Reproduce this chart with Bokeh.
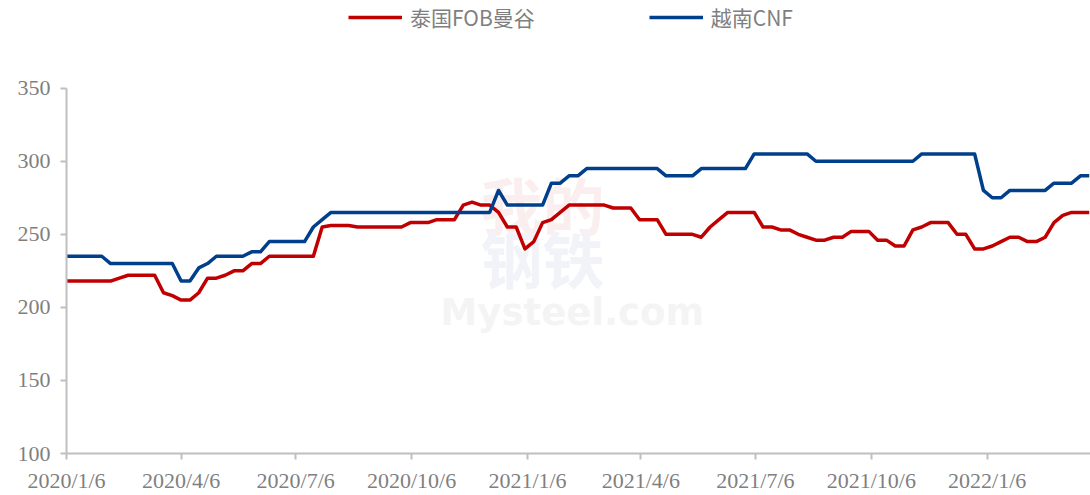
import pandas as pd
from bokeh.plotting import figure
from bokeh.models import Range1d, FixedTicker, Legend, LegendItem, Label
from bokeh.embed import file_html
from bokeh.resources import INLINE

# ---------------- data ----------------
start_date = "2020-01-06"

thai_fob_bangkok = [
    218, 218, 218, 218, 218, 218, 220, 222, 222, 222,
    222, 210, 208, 205, 205, 210, 220, 220, 222, 225,
    225, 230, 230, 235, 235, 235, 235, 235, 235, 255,
    256, 256, 256, 255, 255, 255, 255, 255, 255, 258,
    258, 258, 260, 260, 260, 270, 272, 270, 270, 265,
    255, 255, 240, 245, 258, 260, 265, 270, 270, 270,
    270, 270, 268, 268, 268, 260, 260, 260, 250, 250,
    250, 250, 248, 255, 260, 265, 265, 265, 265, 255,
    255, 253, 253, 250, 248, 246, 246, 248, 248, 252,
    252, 252, 246, 246, 242, 242, 253, 255, 258, 258,
    258, 250, 250, 240, 240, 242, 245, 248, 248, 245,
    245, 248, 258, 263, 265, 265, 265,
]

vietnam_cnf = [
    235, 235, 235, 235, 235, 230, 230, 230, 230, 230,
    230, 230, 230, 218, 218, 227, 230, 235, 235, 235,
    235, 238, 238, 245, 245, 245, 245, 245, 255, 260,
    265, 265, 265, 265, 265, 265, 265, 265, 265, 265,
    265, 265, 265, 265, 265, 265, 265, 265, 265, 280,
    270, 270, 270, 270, 270, 285, 285, 290, 290, 295,
    295, 295, 295, 295, 295, 295, 295, 295, 290, 290,
    290, 290, 295, 295, 295, 295, 295, 295, 305, 305,
    305, 305, 305, 305, 305, 300, 300, 300, 300, 300,
    300, 300, 300, 300, 300, 300, 300, 305, 305, 305,
    305, 305, 305, 305, 280, 275, 275, 280, 280, 280,
    280, 280, 285, 285, 285, 290, 290,
]

series_names = ["泰国FOB曼谷", "越南CNF"]
series_colors = ["#C00000", "#003F8C"]

x_tick_labels = ["2020/1/6", "2020/4/6", "2020/7/6", "2020/10/6", "2021/1/6",
                 "2021/4/6", "2021/7/6", "2021/10/6", "2022/1/6"]
y_ticks = [100, 150, 200, 250, 300, 350]

# ---------------- derived ----------------
t0 = pd.Timestamp(start_date)
dates = pd.date_range(start_date, periods=len(thai_fob_bangkok), freq="7D")
x_days = [int((d - t0).days) for d in dates]
tick_days = [int((pd.Timestamp(t) - t0).days) for t in x_tick_labels]

AXIS_GRAY = "#bfbfbf"
TEXT_GRAY = "#7f7f7f"

# frame spans the full height; the room above 350 holds the legend,
# the y axis itself is bounded to 100..350
p = figure(width=1090, height=495,
           x_range=Range1d(0, x_days[-1] + 1), y_range=Range1d(100, 410),
           toolbar_location=None, output_backend="svg",
           min_border_left=66, min_border_right=0,
           min_border_top=0, min_border_bottom=41)

p.background_fill_color = "white"
p.border_fill_color = "white"
p.outline_line_color = None
p.xgrid.visible = False
p.ygrid.visible = False

# faint watermark
wm1 = Label(x=414, y=205, x_units="screen", y_units="screen", text="我的",
            text_font="Noto Sans CJK SC", text_font_size="62px", text_font_style="bold",
            text_color="#fbeeee", level="underlay")
wm2 = Label(x=414, y=152, x_units="screen", y_units="screen", text="钢铁",
            text_font="Noto Sans CJK SC", text_font_size="62px", text_font_style="bold",
            text_color="#f1f3f8", level="underlay")
wm3 = Label(x=374, y=120, x_units="screen", y_units="screen", text="Mysteel.com",
            text_font="DejaVu Sans", text_font_size="37px", text_font_style="bold",
            text_color="#f4f4f4", level="underlay")
for w in (wm1, wm2, wm3):
    p.add_layout(w)

r1 = p.line(x_days, thai_fob_bangkok, line_color=series_colors[0], line_width=3.5,
            line_join="round")
r2 = p.line(x_days, vietnam_cnf, line_color=series_colors[1], line_width=3.5,
            line_join="round")

# axes
for ax in (p.xaxis[0], p.yaxis[0]):
    ax.axis_line_color = AXIS_GRAY
    ax.axis_line_width = 2
    ax.major_tick_line_color = AXIS_GRAY
    ax.major_tick_line_width = 2
    ax.major_tick_out = 6
    ax.major_tick_in = 0
    ax.minor_tick_line_color = None
    ax.major_label_text_font = "Liberation Serif"
    ax.major_label_text_font_size = "22px"
    ax.major_label_text_color = TEXT_GRAY

p.yaxis.ticker = FixedTicker(ticks=y_ticks)
p.yaxis.bounds = (100, 350)
p.yaxis.major_label_standoff = 10

p.xaxis.ticker = FixedTicker(ticks=tick_days)
p.xaxis.major_label_overrides = {d: lab for d, lab in zip(tick_days, x_tick_labels)}
p.xaxis.major_label_standoff = 8

legend = Legend(items=[LegendItem(label=series_names[0], renderers=[r1]),
                       LegendItem(label=series_names[1], renderers=[r2])],
                orientation="horizontal", location=(282, 421),
                border_line_color=None, background_fill_alpha=0,
                label_text_font="Noto Sans CJK SC", label_text_font_size="21px",
                label_text_color=TEXT_GRAY, glyph_width=54, glyph_height=24,
                label_standoff=8, spacing=114, padding=0, margin=0)
p.add_layout(legend, "center")

open("out.html", "w").write(file_html(p, INLINE))
